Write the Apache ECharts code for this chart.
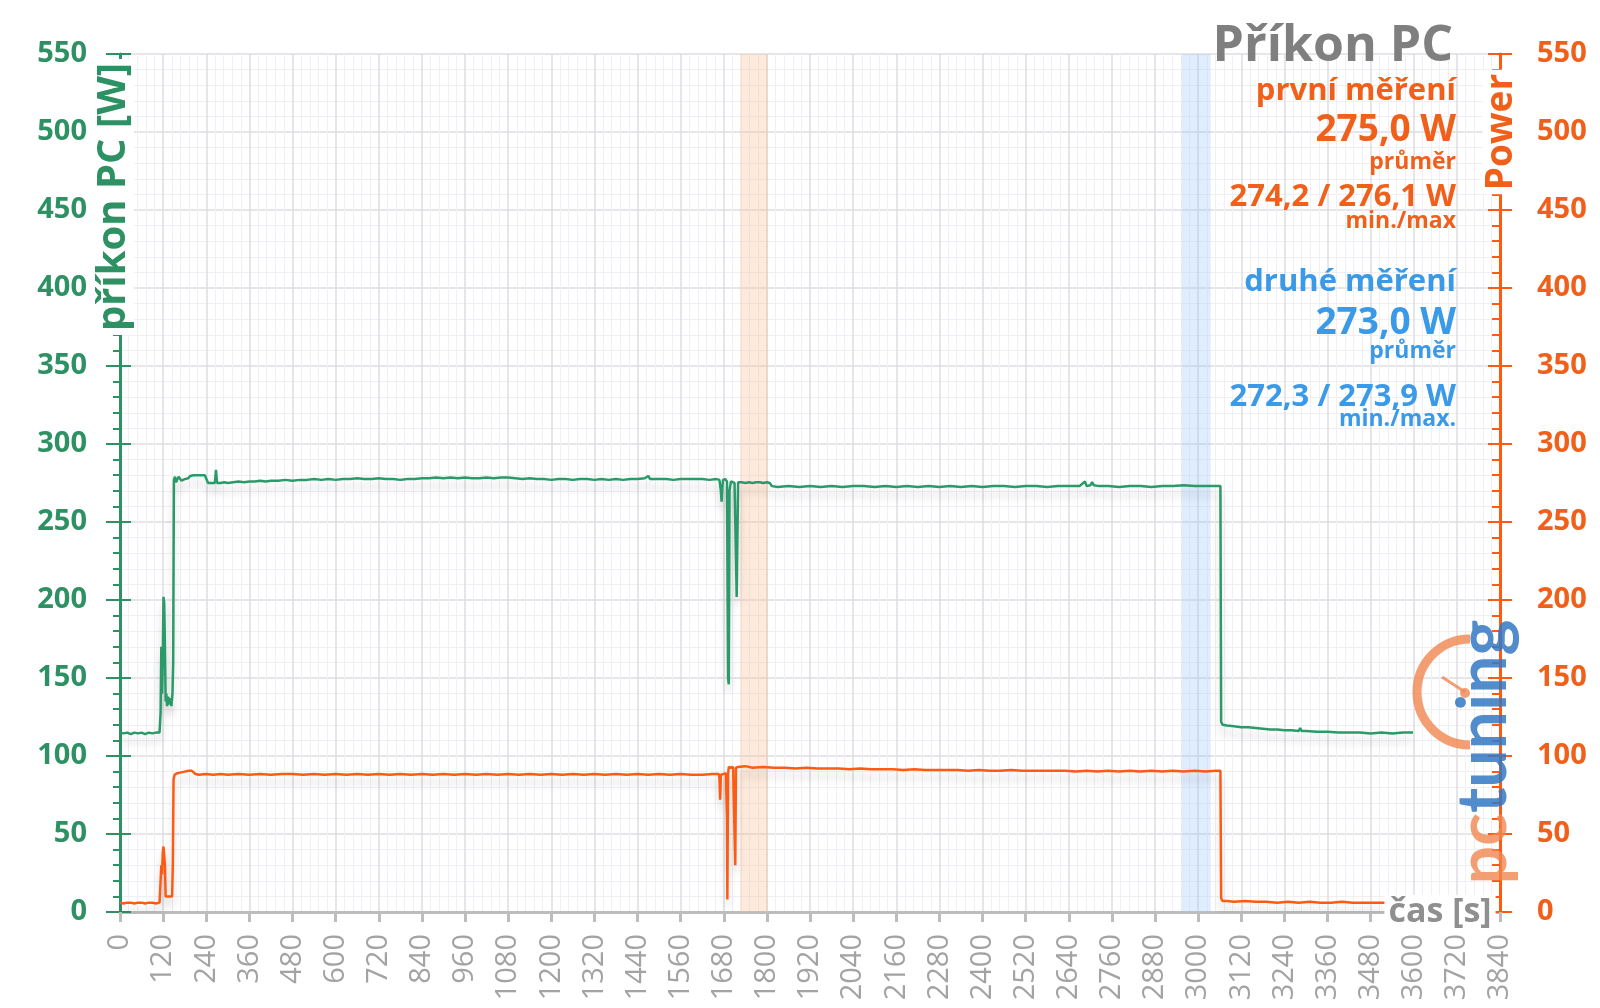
<!DOCTYPE html>
<html>
<head>
<meta charset="utf-8">
<script src="https://cdn.jsdelivr.net/npm/echarts@6/dist/echarts.min.js"></script>
<style>
html,body{margin:0;padding:0;background:#fff;}
#chart{width:1600px;height:1008px;}
</style>
</head>
<body>
<div id="chart"></div>
<script>
// ---- data (time in s, power in W) ----
const pcSamples = [
  [0,115],[10,114.5],[20,115],[30,114],[40,115],[50,114.5],[60,115],[70,114],[80,115],[90,114.5],[100,115],[110,115],
  [113,128],[115,170],[117,140],[119,160],[121,202],[123,198],[125,170],[127,135],[129,140],[131,132],[134,138],[137,133],
  [140,137],[143,132],[146,140],[148,160],[150,277],[153,279],[156,275.5],[160,275.5],[163,279],[168,279],[171,276.5],
  [176,277],[180,277.5],[185,278.5],[190,278],[195,279.5],[200,279.5],[205,280],[210,279],[215,280],[220,279.5],[225,280],
  [230,279.5],[236,280],[240,279],[245,275],[250,274.5],[255,275],[260,274.5],[264,275],[267,283.5],[270,275],[274,276],
  [280,275],[290,275.5],[300,275],[315,275.5],[330,276],[345,275.5],[360,276],[375,276],[390,276.5],[405,276],[420,276.5],
  [440,276.5],[460,277],[480,276.5],[500,277],[520,277],[540,277.5],[560,277],[580,277.5],[600,277],[620,277.5],[640,277.5],
  [660,278],[680,277.5],[700,277.5],[720,278],[740,277.5],[760,277.5],[780,277],[800,277.5],[820,277.5],[840,278],[860,278],
  [880,278.5],[900,278],[920,278.5],[940,278],[960,278.5],[980,278],[1000,278],[1020,278.5],[1040,278],[1060,278.5],
  [1080,278.5],[1100,278],[1120,277.5],[1140,278],[1160,277.5],[1180,277.5],[1200,277],[1220,277.5],[1240,277.5],[1260,277],
  [1280,277.5],[1300,277.5],[1320,277],[1340,277.5],[1360,277],[1380,277.5],[1400,277],[1420,277.5],[1440,277.5],[1460,278],
  [1470,279.5],[1475,277.5],[1500,277.5],[1520,277.5],[1540,277],[1560,277.5],[1580,277.5],[1600,277.5],[1620,277.5],
  [1640,277],[1660,277.5],[1668,277],[1672,270],[1674,263],[1676,272],[1678,277],[1684,277.5],[1689,276],[1692,150],
  [1694,146],[1696,270],[1700,276],[1704,276],[1710,275],[1714,276],[1716,202],[1718,240],[1720,275.5],[1730,275.5],
  [1740,275],[1750,275.5],[1760,275],[1770,275.5],[1780,275.5],[1790,275],[1800,275.5],[1808,275],[1814,273],[1830,272.5],
  [1860,273],[1890,272.5],[1920,273],[1950,272.5],[1980,273],[2010,272.5],[2040,273],[2070,273],[2100,272.5],[2130,273],
  [2160,272.5],[2190,273],[2220,272.5],[2250,273],[2280,272.5],[2310,273],[2340,272.5],[2370,273],[2400,272.5],[2430,273],
  [2460,273],[2490,272.5],[2520,273],[2550,273],[2580,272.5],[2610,273],[2640,273],[2670,273],[2685,276],[2690,273],
  [2700,273.5],[2705,275.5],[2710,273.5],[2725,273],[2750,273],[2780,272.5],[2810,273],[2840,273],[2870,272.5],[2900,273],
  [2930,273],[2960,273.5],[2990,273],[3020,273],[3050,273],[3062,273],[3064,122],[3068,120],[3080,119.5],[3100,119],
  [3120,118.5],[3140,118.5],[3160,118],[3180,117.5],[3200,117],[3220,117],[3240,116.5],[3260,116.5],[3280,116],[3284,118],
  [3288,116],[3300,116],[3330,115.5],[3360,115.5],[3390,115],[3420,115],[3450,115],[3480,114.5],[3510,115],[3540,114.5],
  [3570,115],[3598,115]
];
const powerSamples = [
  [0,6],[10,5.5],[20,6],[30,6],[40,5.5],[50,6],[60,6],[70,5.5],[80,6],[90,6],[100,5.5],[110,6],[113,20],[115,30],[117,24],
  [119,38],[121,42],[123,42],[125,30],[127,10],[131,9.5],[135,10],[140,9.5],[145,10],[147,30],[149,85],[152,88],[156,88],
  [160,89],[165,88.5],[170,89.5],[175,89],[180,90],[185,89.5],[190,90.5],[195,90],[200,90.5],[205,90],[210,88.5],[220,88],
  [240,88.5],[260,88],[280,88.5],[300,88],[330,88.5],[360,88],[390,88.5],[420,88],[450,88.5],[480,88.5],[510,88],[540,88.5],
  [570,88],[600,88.5],[630,88],[660,88.5],[690,88],[720,88.5],[750,88],[780,88.5],[810,88],[840,88.5],[870,88],[900,88.5],
  [930,88],[960,88.5],[990,88],[1020,88.5],[1050,88],[1080,88.5],[1110,88],[1140,88.5],[1170,88],[1200,88.5],[1230,88],
  [1260,88.5],[1290,88],[1320,88.5],[1350,88],[1380,88.5],[1410,88],[1440,88.5],[1470,88],[1500,88.5],[1530,88],[1560,88.5],
  [1590,88],[1620,88],[1650,88.5],[1666,88.5],[1668,86],[1670,72],[1672,88],[1680,88.5],[1686,89],[1689,60],[1690,8],
  [1692,88],[1694,93],[1700,92.5],[1706,93],[1710,92.5],[1712,30],[1714,92.5],[1720,93],[1740,93.5],[1760,92.5],[1790,93],
  [1820,92.5],[1850,92.5],[1880,92],[1910,92.5],[1940,92],[1970,92],[2000,92],[2030,91.5],[2060,92],[2090,91.5],[2120,91.5],
  [2150,91.5],[2180,91],[2210,91.5],[2240,91],[2270,91],[2300,91],[2330,91],[2360,90.5],[2390,91],[2420,90.5],[2450,90.5],
  [2480,91],[2510,90.5],[2540,90.5],[2570,90.5],[2600,90.5],[2630,90.5],[2660,90],[2690,90.5],[2720,90],[2750,90.5],
  [2780,90],[2810,90.5],[2840,90],[2870,90.5],[2900,90],[2930,90.5],[2960,90],[2990,90.5],[3020,90],[3050,90.5],[3062,90.5],
  [3064,9],[3068,7],[3080,7],[3100,6.5],[3130,7],[3160,6.5],[3190,6.5],[3220,6],[3250,6.5],[3280,6],[3310,6.5],[3340,6],
  [3370,6],[3400,6.5],[3430,6],[3460,6],[3490,6],[3528,6]
];
// measurement windows (s)
const firstWindow = [1725, 1803];
const secondWindow = [2954, 3035];
// axis ranges
const xRange = [0, 3840, 120];
const yRange = [0, 550, 50];
// texts
const titleText = 'Příkon PC';
const leftAxisName = 'příkon PC [W]';
const rightAxisName = 'Power';
const xAxisName = 'čas [s]';
const firstLabels = ['první měření', '275,0 W', 'průměr', '274,2 / 276,1 W', 'min./max'];
const secondLabels = ['druhé měření', '273,0 W', 'průměr', '272,3 / 273,9 W', 'min./max.'];

const GREEN = '#2D9163', GREEN_LINE = '#2A9A68';
const ORANGE = '#F0601A', ORANGE_LINE = '#FF5A12';
const BLUE = '#3A9AE8';
const GRAY = '#a3a3a3';
const FONT = 'Open Sans';

const chart = echarts.init(document.getElementById('chart'));

function infoText(x, y, text, size, color) {
  return { type: 'text', x: x, y: y, z: 50, style: { text: text, fill: color, font: 'bold ' + size + 'px "' + FONT + '"', align: 'right', verticalAlign: 'middle' } };
}
const RX = 1456;
const graphics = [
  { type: 'text', x: 1453, y: 47, z: 50, style: { text: titleText, fill: '#7f7f7f', font: 'bold 50px "' + FONT + '"', align: 'right', verticalAlign: 'middle' } },
  infoText(RX, 91, firstLabels[0], 31, ORANGE),
  infoText(RX, 130, firstLabels[1], 37, ORANGE),
  infoText(RX, 162, firstLabels[2], 23, ORANGE),
  infoText(RX, 197, firstLabels[3], 31, ORANGE),
  infoText(RX, 221, firstLabels[4], 23, ORANGE),
  infoText(RX, 282, secondLabels[0], 31, BLUE),
  infoText(RX, 323, secondLabels[1], 37, BLUE),
  infoText(RX, 351, secondLabels[2], 23, BLUE),
  infoText(RX, 397, secondLabels[3], 31, BLUE),
  infoText(RX, 419, secondLabels[4], 23, BLUE),
  { type: 'text', x: 114, y: 197, rotation: Math.PI / 2, z: 60,
    style: { text: leftAxisName, fill: GREEN, font: 'bold 40px "' + FONT + '"', align: 'center', verticalAlign: 'middle', backgroundColor: '#fff', padding: [0, 4] } },
  { type: 'text', x: 1501, y: 132, rotation: Math.PI / 2, z: 60,
    style: { text: rightAxisName, fill: ORANGE, font: 'bold 37px "' + FONT + '"', align: 'center', verticalAlign: 'middle', backgroundColor: '#fff', padding: [0, 4] } },
  { type: 'text', x: 1440, y: 912, z: 60,
    style: { text: xAxisName, fill: '#8f8f8f', font: 'bold 34px "' + FONT + '"', align: 'center', verticalAlign: 'middle', backgroundColor: '#fff', padding: [0, 4] } },
  // pctuning watermark
  { type: 'arc', z: 40, shape: { cx: 1470, cy: 692, r: 53, startAngle: Math.PI / 2, endAngle: Math.PI * 1.5, clockwise: true },
    style: { stroke: 'rgba(240,135,80,0.8)', lineWidth: 9, fill: null } },
  { type: 'line', z: 40, shape: { x1: 1442, y1: 677, x2: 1465, y2: 692 }, style: { stroke: 'rgba(240,135,80,0.8)', lineWidth: 3 } },
  { type: 'circle', z: 40, shape: { cx: 1465, cy: 693, r: 5 }, style: { fill: 'rgba(240,135,80,0.8)' } },
  { type: 'text', x: 1484, y: 752, rotation: Math.PI / 2, z: 40,
    style: { text: '{a|pc}{b|tuning}', align: 'center', verticalAlign: 'middle',
      rich: { a: { fill: 'rgba(240,135,80,0.8)', font: 'bold 68px Lato' }, b: { fill: 'rgba(50,120,195,0.85)', font: 'bold 68px Lato' } } } }
];

const option = {
  backgroundColor: '#fff',
  animation: false,
  grid: { left: 120, right: 100, top: 54, bottom: 96, containLabel: false },
  xAxis: {
    type: 'value', min: xRange[0], max: xRange[1], interval: xRange[2],
    axisLine: { show: true, lineStyle: { color: '#bdbdbd', width: 3 } },
    axisTick: { show: true, length: 10, lineStyle: { color: '#bdbdbd', width: 3 } },
    axisLabel: { rotate: 90, margin: 22, color: GRAY, fontSize: 29, fontFamily: FONT, formatter: function (v) { return String(v); } },
    splitLine: { show: true, lineStyle: { color: '#dcdde3', width: 1.5 } },
    minorTick: { show: false, splitNumber: 5 },
    minorSplitLine: { show: true, lineStyle: { color: '#f0f0f4', width: 1 } }
  },
  yAxis: [
    { type: 'value', position: 'left', min: yRange[0], max: yRange[1], interval: yRange[2],
      axisLine: { show: true, lineStyle: { color: GREEN, width: 3 } },
      axisTick: { show: true, length: 14, lineStyle: { color: GREEN, width: 2 } },
      minorTick: { show: true, splitNumber: 5, length: 7, lineStyle: { color: GREEN, width: 2 } },
      axisLabel: { margin: 33, color: GREEN, fontSize: 29, fontWeight: 'bold', fontFamily: FONT },
      splitLine: { show: true, lineStyle: { color: '#dcdde3', width: 1.5 } },
      minorSplitLine: { show: true, lineStyle: { color: '#f0f0f4', width: 1 } } },
    { type: 'value', position: 'right', min: yRange[0], max: yRange[1], interval: yRange[2],
      axisLine: { show: true, lineStyle: { color: ORANGE_LINE, width: 3 } },
      axisTick: { show: true, inside: true, length: 12, lineStyle: { color: ORANGE_LINE, width: 2 } },
      minorTick: { show: true, splitNumber: 5, length: 8, lineStyle: { color: ORANGE_LINE, width: 2 } },
      axisLabel: { margin: 37, color: ORANGE, fontSize: 29, fontWeight: 'bold', fontFamily: FONT },
      splitLine: { show: false } },
    { type: 'value', position: 'left', min: yRange[0], max: yRange[1], interval: yRange[2],
      axisLine: { show: false }, axisLabel: { show: false }, splitLine: { show: false },
      axisTick: { show: true, inside: true, length: 11, lineStyle: { color: GREEN, width: 2 } } },
    { type: 'value', position: 'right', min: yRange[0], max: yRange[1], interval: yRange[2],
      axisLine: { show: false }, axisLabel: { show: false }, splitLine: { show: false },
      axisTick: { show: true, length: 12, lineStyle: { color: ORANGE_LINE, width: 2 } } }
  ],
  series: [
    { name: leftAxisName, type: 'line', yAxisIndex: 0, data: pcSamples, showSymbol: false, z: 5,
      lineStyle: { color: GREEN_LINE, width: 2.5, shadowColor: 'rgba(0,0,0,0.18)', shadowBlur: 8, shadowOffsetY: 8 },
      markArea: { silent: true, z: 1, data: [
        [{ xAxis: firstWindow[0], itemStyle: { color: 'rgba(250,185,140,0.3)' } }, { xAxis: firstWindow[1] }],
        [{ xAxis: secondWindow[0], itemStyle: { color: 'rgba(160,198,245,0.32)' } }, { xAxis: secondWindow[1] }]
      ] } },
    { name: rightAxisName, type: 'line', yAxisIndex: 1, data: powerSamples, showSymbol: false, z: 5,
      lineStyle: { color: ORANGE_LINE, width: 2.5, shadowColor: 'rgba(0,0,0,0.18)', shadowBlur: 8, shadowOffsetY: 8 } }
  ],
  graphic: graphics
};
chart.setOption(option);
</script>
</body>
</html>
